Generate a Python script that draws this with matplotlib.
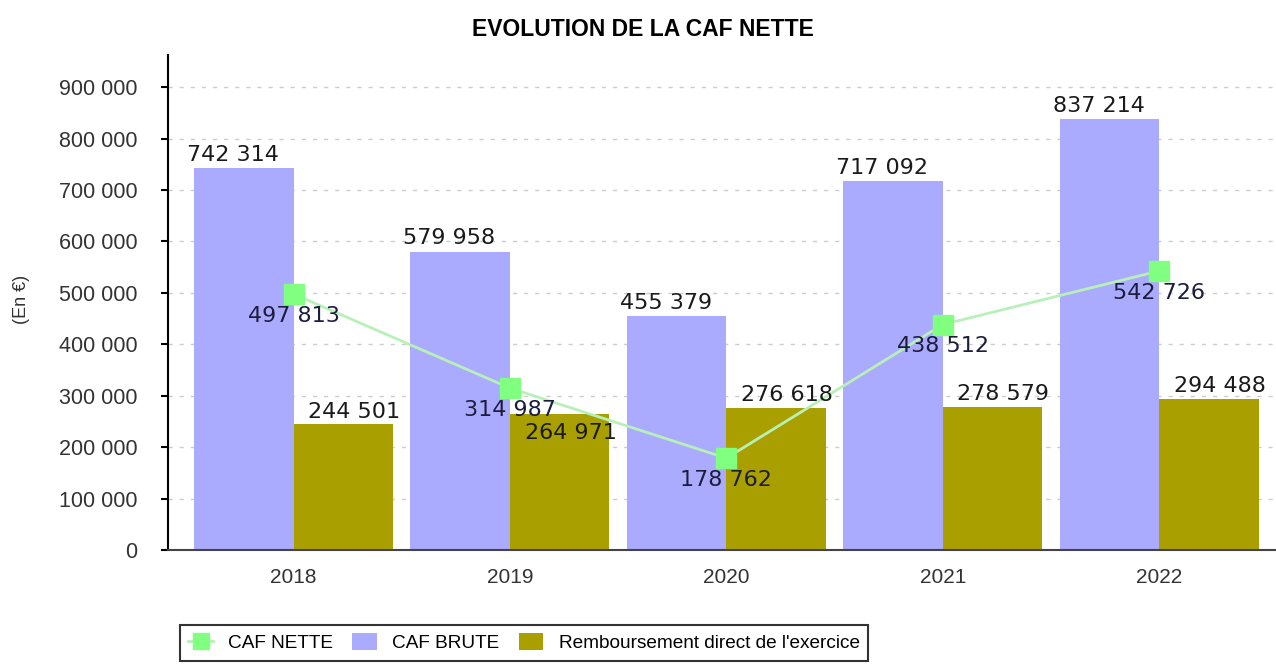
import matplotlib.pyplot as plt
import numpy as np
from matplotlib.ticker import FuncFormatter

YEARS = ["2018", "2019", "2020", "2021", "2022"]
CAF_BRUTE = [742314, 579958, 455379, 717092, 837214]
REMBOURSEMENT = [244501, 264971, 276618, 278579, 294488]
CAF_NETTE = [497813, 314987, 178762, 438512, 542726]

BLUE = "#aaaaff"
OLIVE = "#a9a000"
GREEN = "#80ff80"


def fmt_fr(v):
    return f"{int(round(v)):,}".replace(",", " ")


fig = plt.figure(figsize=(12.76, 6.66), dpi=100)
ax = fig.add_axes([0.1317, 0.174, 0.8683, 0.743])

x = np.arange(len(YEARS))
w = 0.46
ax.bar(x - w / 2, CAF_BRUTE, w, color=BLUE, label="CAF BRUTE", zorder=2)
ax.bar(x + w / 2, REMBOURSEMENT, w, color=OLIVE,
       label="Remboursement direct de l'exercice", zorder=2)
ax.plot(x, CAF_NETTE, color="#b8f0b8", lw=2, marker="s", markersize=15,
        markerfacecolor=GREEN, markeredgecolor=GREEN, label="CAF NETTE", zorder=4)

lab_kw = dict(ha="center", va="center", fontsize=16, zorder=5)
for i in x:
    ax.text(i - w / 2 - 0.05, CAF_BRUTE[i] + 26000, fmt_fr(CAF_BRUTE[i]),
            color="#1a1a1a", **lab_kw)
    # label pushed inside the bar when it would collide with the CAF NETTE label
    clash = 0 < CAF_NETTE[i] - REMBOURSEMENT[i] < 80000
    dy = -37000 if clash else 24000
    ax.text(i + w / 2 + 0.05, REMBOURSEMENT[i] + dy, fmt_fr(REMBOURSEMENT[i]),
            color="#1a1a1a", **lab_kw)
    ax.text(i, CAF_NETTE[i] - 42000, fmt_fr(CAF_NETTE[i]),
            color="#1c1c3c", **lab_kw)

ax.set_xlim(-0.58, 4.54)
ax.set_ylim(0, 962000)
ax.set_yticks(np.arange(0, 900001, 100000))
ax.yaxis.set_major_formatter(FuncFormatter(lambda v, p: fmt_fr(v)))
ax.set_xticks(x)
ax.set_xticklabels(YEARS)
ax.tick_params(axis="x", length=0, pad=13, labelsize=15, labelcolor="#333333")
ax.tick_params(axis="y", length=5, width=1.5, direction="out", pad=17,
               labelsize=15.5, labelcolor="#333333")
for lab in ax.get_xticklabels() + ax.get_yticklabels():
    lab.set_family("Liberation Sans")

ax.grid(axis="y", linestyle=(0, (3, 5)), color="#cccccc", lw=1, zorder=0)
ax.spines["top"].set_visible(False)
ax.spines["right"].set_visible(False)
ax.spines["left"].set_linewidth(1.5)
ax.spines["bottom"].set_linewidth(1.5)
ax.spines["bottom"].set_color("#444444")

fig.text(0.017, 0.55, "(En €)", rotation=90, ha="center", va="center",
         fontsize=13, family="Liberation Sans", color="#333333")
fig.text(0.504, 0.955, "EVOLUTION DE LA CAF NETTE", ha="center", va="center",
         fontsize=16.5, fontweight="bold", family="Liberation Sans")

leg = fig.legend(loc="upper left", bbox_to_anchor=(0.141, 0.062), ncol=3,
                 frameon=True, fancybox=False, edgecolor="black",
                 prop={"family": "Liberation Sans", "size": 13.7},
                 handlelength=1.3, handleheight=1.0, columnspacing=1.0,
                 handletextpad=0.8, borderpad=0.45, markerscale=0.75,
                 borderaxespad=0)
leg.get_frame().set_linewidth(1.5)

fig.savefig("out.png", dpi=100)
